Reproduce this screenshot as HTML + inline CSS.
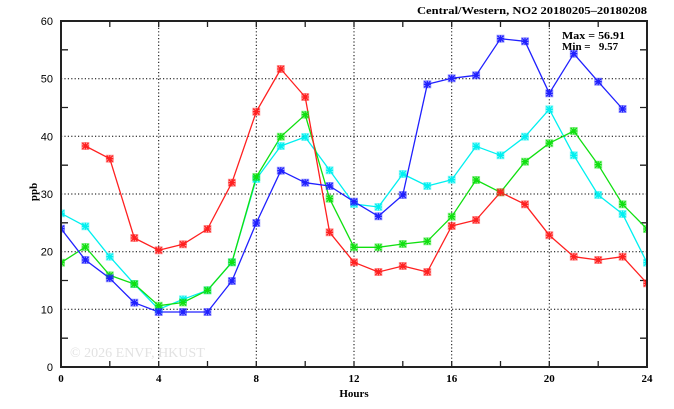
<!DOCTYPE html>
<html><head><meta charset="utf-8"><style>
html,body{margin:0;padding:0;background:#fff;}
svg{display:block;}
.tk{font-family:"Liberation Sans",sans-serif;font-size:11px;fill:#000;}
.sf{font-family:"Liberation Serif",serif;font-weight:bold;fill:#000;}
</style></head><body>
<svg width="674" height="409" viewBox="0 0 674 409" xmlns="http://www.w3.org/2000/svg">
<defs>
<clipPath id="pa"><rect x="61" y="21" width="586" height="346"/></clipPath>
</defs>
<text x="70" y="357" font-family="Liberation Serif,serif" font-size="14" fill="#e2e2e2">© 2026  ENVF, HKUST</text>
<g stroke="#000" stroke-width="1" stroke-dasharray="1.2,2.2" fill="none">
<path d="M158.7 21V367M256.3 21V367M354 21V367M451.7 21V367M549.3 21V367"/>
<path d="M61 78.7H647M61 136.3H647M61 194H647M61 251.7H647M61 309.3H647"/>
</g>
<g stroke="#222" stroke-width="1.3">
<path d="M109.8 367v-6M207.5 367v-6M305.2 367v-6M402.8 367v-6M500.5 367v-6M598.2 367v-6"/>
<path d="M109.8 21v6M207.5 21v6M305.2 21v6M402.8 21v6M500.5 21v6M598.2 21v6"/>
<path d="M158.7 367v-6M256.3 367v-6M354 367v-6M451.7 367v-6M549.3 367v-6"/>
<path d="M158.7 21v6M256.3 21v6M354 21v6M451.7 21v6M549.3 21v6"/>
<path d="M61 338.2h7M61 280.5h7M61 222.8h7M61 165.2h7M61 107.5h7M61 49.8h7"/>
<path d="M647 338.2h-7M647 280.5h-7M647 222.8h-7M647 165.2h-7M647 107.5h-7M647 49.8h-7"/>
</g>
<g clip-path="url(#pa)" fill="none" stroke-width="1.3" stroke-linejoin="round">
<polyline stroke="#00f0f0" points="61,213.3 85.4,226.3 109.8,256.7 134.3,284 158.7,309.3 183,299.3 207.5,290.3 231.9,262.3 256.3,179 280.8,146 305.2,137 329.6,170.3 354,204 378.4,207 402.8,174 427.3,186 451.7,179.7 476.1,146.3 500.5,155.3 525,136.7 549.3,109.3 573.8,155.3 598.2,195 622.6,214 647,262.7"/>
<polyline stroke="#10e010" points="61,262.7 85.4,247 109.8,275.3 134.3,284 158.7,305.7 183,302.5 207.5,290.3 231.9,262.3 256.3,177 280.8,136.7 305.2,114.7 329.6,198.7 354,247.3 378.4,247.3 402.8,244 427.3,241.3 451.7,216.7 476.1,180 500.5,192.3 525,161.7 549.3,143.2 573.8,131 598.2,164.7 622.6,204.3 647,229"/>
<polyline stroke="#ff2020" points="85.4,146 109.8,158.7 134.3,238 158.7,250.3 183,244.3 207.5,229 231.9,182.7 256.3,111.7 280.8,69 305.2,97 329.6,232.3 354,262.3 378.4,272 402.8,266 427.3,272 451.7,226 476.1,220 500.5,192.3 525,204.3 549.3,235.2 573.8,256.7 598.2,260 622.6,256.7 647,283.3"/>
<polyline stroke="#2020ff" points="61,228.7 85.4,260 109.8,278.3 134.3,302.7 158.7,312 183,312 207.5,312 231.9,281 256.3,223 280.8,170.7 305.2,182.7 329.6,186 354,201.7 378.4,216.3 402.8,195 427.3,84.3 451.7,78.3 476.1,75.3 500.5,38.7 525,41.3 549.3,93.3 573.8,53.7 598.2,81.7 622.6,109"/>
</g>
<g id="mk" clip-path="url(#pa)"></g>
<rect x="61" y="21" width="586" height="346" fill="none" stroke="#222" stroke-width="2"/>
<g class="tk" text-anchor="end">
<text x="53" y="25">60</text><text x="53" y="82.7">50</text><text x="53" y="140.3">40</text>
<text x="53" y="198">30</text><text x="53" y="255.7">20</text><text x="53" y="313.3">10</text><text x="53" y="371">0</text>
</g>
<g class="sf" font-size="11" text-anchor="middle">
<text x="61" y="382">0</text><text x="158.7" y="382">4</text><text x="256.3" y="382">8</text>
<text x="354" y="382">12</text><text x="451.7" y="382">16</text><text x="549.3" y="382">20</text><text x="647" y="382">24</text>
<text x="354" y="397">Hours</text>
<text transform="translate(37,192) rotate(-90)">ppb</text>
</g>
<text class="sf" font-size="11" x="647" y="14" text-anchor="end" textLength="230" lengthAdjust="spacingAndGlyphs">Central/Western, NO2 20180205–20180208</text>
<text class="sf" font-size="11" x="562" y="39" textLength="63" lengthAdjust="spacingAndGlyphs">Max = 56.91</text>
<text class="sf" font-size="11" x="562" y="50" xml:space="preserve">Min =   9.57</text>
</svg>
<script>
(function(){
var ns="http://www.w3.org/2000/svg";
var g=document.getElementById("mk");
var polys=document.querySelectorAll("polyline");
polys.forEach(function(p){
  var c=p.getAttribute("stroke");
  var pts=p.getAttribute("points").trim().split(/\s+/);
  pts.forEach(function(s){
    var a=s.split(","),x=+a[0],y=+a[1];
    var r=document.createElementNS(ns,"rect");
    r.setAttribute("x",x-3.5);r.setAttribute("y",y-3.5);r.setAttribute("width",7);r.setAttribute("height",7);
    r.setAttribute("fill",c);r.setAttribute("fill-opacity","0.35");r.setAttribute("stroke",c);r.setAttribute("stroke-opacity","0.4");r.setAttribute("stroke-width","1");
    g.appendChild(r);
    var pa=document.createElementNS(ns,"path");
    pa.setAttribute("d","M"+(x-3)+" "+(y-3)+"L"+(x+3)+" "+(y+3)+"M"+(x-3)+" "+(y+3)+"L"+(x+3)+" "+(y-3)+"M"+x+" "+(y-3.5)+"V"+(y+3.5)+"M"+(x-3.5)+" "+y+"H"+(x+3.5));
    pa.setAttribute("stroke",c);pa.setAttribute("stroke-width","1.3");pa.setAttribute("fill","none");
    g.appendChild(pa);
  });
});
})();
</script>
</body></html>
